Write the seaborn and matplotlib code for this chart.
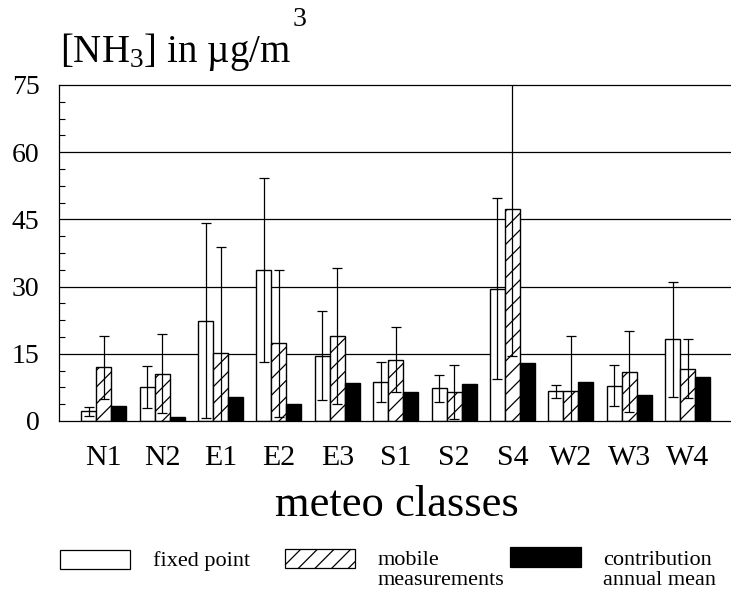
import numpy as np
import pandas as pd
import matplotlib
matplotlib.use("Agg")
import matplotlib.pyplot as plt
from matplotlib.patches import Rectangle
import seaborn as sns

classes = ["N1", "N2", "E1", "E2", "E3", "S1", "S2", "S4", "W2", "W3", "W4"]
series = ["fixed point", "mobile measurements", "contribution annual mean"]
fixed_vals = [2.2, 7.5, 22.4, 33.7, 14.6, 8.7, 7.3, 29.5, 6.6, 7.9, 18.2]
fixed_err = [1.0, 4.7, 21.8, 20.5, 9.9, 4.4, 3.0, 20.2, 1.4, 4.6, 12.9]
mobile_vals = [12.0, 10.6, 15.2, 17.3, 19.0, 13.7, 6.4, 47.4, 6.8, 11.0, 11.7]
mobile_err = [7.0, 8.8, 23.7, 16.4, 15.1, 7.2, 6.0, 33.0, 12.1, 9.0, 6.5]
annual_vals = [3.45, 0.9, 5.4, 3.9, 8.4, 6.5, 8.25, 13.0, 8.6, 5.9, 9.9]
yticks = [0, 15, 30, 45, 60, 75]
legend_labels = ["fixed point", "mobile\nmeasurements", "contribution\nannual mean"]

sns.set_style("white")
plt.rcParams["font.family"] = ["Liberation Serif", "DejaVu Serif"]
plt.rcParams["mathtext.fontset"] = "custom"
plt.rcParams["mathtext.rm"] = "Liberation Serif"
plt.rcParams["mathtext.it"] = "Liberation Serif:italic"
plt.rcParams["hatch.linewidth"] = 0.9
plt.rcParams["hatch.color"] = "black"
for k in ["text.color", "axes.labelcolor", "xtick.color", "ytick.color", "axes.edgecolor"]:
    plt.rcParams[k] = "black"

df = pd.DataFrame({
    "cls": classes * 3,
    "series": [series[0]] * 11 + [series[1]] * 11 + [series[2]] * 11,
    "val": fixed_vals + mobile_vals + annual_vals,
})

fig = plt.figure(figsize=(7.31, 5.92), dpi=100)
ax = fig.add_axes([59 / 731, 1 - 421 / 592, 1 - 59 / 731, (421 - 85) / 592])

sns.barplot(data=df, x="cls", y="val", hue="series", hue_order=series, order=classes,
            palette={series[0]: "white", series[1]: "white", series[2]: "black"},
            edgecolor="black", linewidth=1.0, width=0.771, errorbar=None,
            saturation=1, legend=False, ax=ax)

for bar in ax.containers[1]:
    bar.set_hatch("//")

for cont, vals, errs in [(ax.containers[0], fixed_vals, fixed_err),
                         (ax.containers[1], mobile_vals, mobile_err)]:
    xs = [b.get_x() + b.get_width() / 2 for b in cont]
    ax.errorbar(xs, vals, yerr=errs, fmt="none", ecolor="black", elinewidth=0.9,
                capsize=3.5, capthick=0.9, zorder=3)

ax.set_xlim(-0.767, 10.745)
ax.set_ylim(0, 75)
ax.set_yticks(yticks)
ax.set_yticklabels([str(t) for t in yticks], fontsize=20, color="black")
ax.set_yticks(np.arange(0, 75.01, 3.75), minor=True)
ax.tick_params(axis="y", which="minor", direction="in", length=4, width=0.8, left=True, color="black")
ax.tick_params(axis="y", which="major", direction="in", length=0, pad=14, labelcolor="black")
ax.tick_params(axis="x", length=0, pad=17, labelsize=21.5, labelcolor="black")
ax.set_xlabel("")
ax.set_ylabel("")
for yv in yticks[1:-1]:
    ax.axhline(yv, color="black", lw=0.9, zorder=0.5)
for s in ["left", "bottom", "top"]:
    ax.spines[s].set_visible(True)
    ax.spines[s].set_color("black")
    ax.spines[s].set_linewidth(0.9)
ax.spines["right"].set_visible(False)

fig.text(397 / 731, 1 - 505 / 592, "meteo classes", fontsize=32, ha="center", va="center",
         color="black")
fig.text(60 / 731, 1 - 62 / 592, r"[NH$_3$] in µg/m", fontsize=28, ha="left", va="baseline",
         color="black")
fig.text(293 / 731, 1 - 20 / 592, "3", fontsize=20, ha="left", va="center", color="black")

# legend
boxes = [(60, 550, 70, 19, "white", None), (285, 549, 70, 19, "white", "//"),
         (510, 547, 71, 20, "black", None)]
text_x = [153, 378, 603]
for (bx, by, bw, bh, fc, hatch), tx, lab in zip(boxes, text_x, legend_labels):
    r = Rectangle((bx / 731, 1 - (by + bh) / 592), bw / 731, bh / 592,
                  facecolor=fc, edgecolor="black", linewidth=0.9, hatch=hatch,
                  transform=fig.transFigure)
    fig.add_artist(r)
    fig.text(tx / 731, 1 - 551 / 592, lab, fontsize=16, ha="left", va="top",
             linespacing=1.05, color="black")

fig.savefig("out.png", dpi=100)
